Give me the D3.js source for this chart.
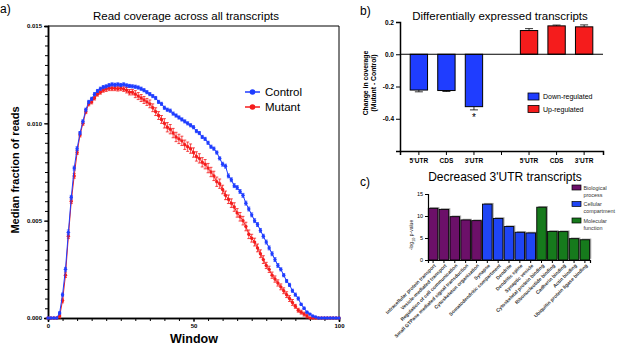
<!DOCTYPE html>
<html lang="en">
<head>
    <meta charset="UTF-8">
    <title>Coverage figure</title>
    <script src="https://cdnjs.cloudflare.com/ajax/libs/d3/7.8.5/d3.min.js"></script>
    <style>
        body { margin: 0; background: #fff; }
        svg { font-family: "Liberation Sans", Arial, sans-serif; }
    </style>
</head>
<body>
    <div id="chart"></div>
    <script>
        // ---- panel a: median fraction of reads per window (window 0..100)
        const controlMedian = [
            0, 0, 0, 0, 0.00026, 0.0012, 0.0025, 0.0044, 0.0062, 0.0077,
            0.0087, 0.0095, 0.0101, 0.0107, 0.0111, 0.01126, 0.0115, 0.01166, 0.01178, 0.01186,
            0.0119, 0.01196, 0.0120, 0.01198, 0.0120, 0.01197, 0.0120, 0.01195, 0.01192, 0.0119,
            0.01188, 0.01184, 0.01178, 0.0117, 0.0116, 0.0115, 0.0114, 0.0113, 0.0111, 0.0110,
            0.0108, 0.0107, 0.01065, 0.0105, 0.0104, 0.0103, 0.0102, 0.0101, 0.0100, 0.0099,
            0.0098, 0.0096, 0.0095, 0.0093, 0.0092, 0.0090, 0.0088, 0.0087, 0.0085, 0.0082,
            0.0079, 0.0078, 0.0073, 0.0071, 0.0068, 0.0067, 0.0065, 0.0063, 0.0059, 0.0056,
            0.0053, 0.0050, 0.0048, 0.0045, 0.0042, 0.0039, 0.0036, 0.0033, 0.0030, 0.0027,
            0.0025, 0.0022, 0.0019, 0.0017, 0.0014, 0.0012, 0.0010, 0.0007, 0.0005, 0.0003,
            0.0002, 0.0001, 0.00005, 0, 0, 0, 0, 0, 0, 0, 0
        ]
        const controlSem = [
            0, 0, 0, 0, 0.00006, 0.00008, 0.0001, 0.00012, 0.0001, 0.0001,
            0.0001, 0.00008, 0.00008, 0.00008, 0.00008, 0.00008, 0.00008, 0.00008, 0.00008, 0.00008,
            0.00008, 0.00008, 0.00008, 0.00008, 0.00008, 0.00008, 0.00008, 0.00008, 0.00008, 0.00008,
            0.00008, 0.00008, 0.00008, 0.00008, 0.00008, 0.00008, 0.00008, 0.00008, 0.00008, 0.00008,
            0.00008, 0.00008, 0.00008, 0.00008, 0.00008, 0.00008, 0.00008, 0.00008, 0.00008, 0.00008,
            0.00008, 0.00008, 0.00008, 0.00008, 0.00008, 0.00008, 0.00008, 0.00008, 0.00008, 0.00008,
            0.0001, 0.0001, 0.0001, 0.0001, 0.0001, 0.0001, 0.0001, 0.0001, 0.0001, 0.0001,
            0.0001, 0.0001, 0.0001, 0.0001, 0.0001, 0.0001, 0.0001, 0.0001, 0.0001, 0.0001,
            0.00008, 0.00008, 0.00008, 0.00008, 0.00008, 0.00008, 0.00008, 0.00006, 0.00006, 0.00005,
            0.00004, 0.00003, 0.00002, 0, 0, 0, 0, 0, 0, 0, 0
        ]
        const mutantMedian = [
            0, 0, 0, 0, 0.0001, 0.0009, 0.0022, 0.0042, 0.0060, 0.0073,
            0.0085, 0.0094, 0.0100, 0.0106, 0.0110, 0.0111, 0.0113, 0.0115, 0.0116, 0.0117,
            0.01176, 0.0118, 0.0118, 0.0118, 0.01178, 0.0118, 0.01176, 0.0117, 0.0116, 0.0116,
            0.0115, 0.0114, 0.0113, 0.0112, 0.0111, 0.0110, 0.0108, 0.0106, 0.0104, 0.0102,
            0.0100, 0.0098, 0.0097, 0.0095, 0.0093, 0.0092, 0.0091, 0.0089, 0.0088, 0.0087,
            0.0085, 0.0083, 0.0082, 0.0080, 0.0079, 0.0077, 0.0075, 0.0073, 0.0070, 0.0069,
            0.0066, 0.0063, 0.0061, 0.0059, 0.0057, 0.0054, 0.0052, 0.0050, 0.0047, 0.0043,
            0.0041, 0.0039, 0.0036, 0.0033, 0.0030, 0.0027, 0.0025, 0.0022, 0.0020, 0.0018,
            0.0016, 0.0014, 0.0012, 0.0010, 0.0008, 0.0006, 0.0004, 0.0003, 0.0002, 0.0001,
            0, 0, 0, 0, 0, 0, 0, 0, 0, 0, 0
        ]
        const mutantSem = [
            0, 0, 0, 0, 0.0001, 0.00012, 0.00012, 0.00012, 0.00012, 0.00012,
            0.0001, 0.0001, 0.0001, 0.0001, 0.0001, 0.0001, 0.0001, 0.0001, 0.0001, 0.0001,
            0.00012, 0.00012, 0.00012, 0.00012, 0.00012, 0.00012, 0.00012, 0.00014, 0.00014, 0.00014,
            0.00018, 0.00018, 0.00018, 0.00018, 0.00018, 0.0002, 0.0002, 0.0002, 0.0002, 0.0002,
            0.00024, 0.00024, 0.00024, 0.00024, 0.00024, 0.00024, 0.00024, 0.00024, 0.00024, 0.00024,
            0.00024, 0.00024, 0.00024, 0.00024, 0.00024, 0.00024, 0.00024, 0.00024, 0.00024, 0.00024,
            0.00022, 0.00022, 0.00022, 0.00022, 0.00022, 0.00022, 0.00022, 0.00022, 0.00022, 0.00022,
            0.0002, 0.0002, 0.0002, 0.0002, 0.0002, 0.00016, 0.00016, 0.00016, 0.00016, 0.00016,
            0.00015, 0.00015, 0.00015, 0.00015, 0.00015, 0.0001, 0.0001, 0.0001, 0.0001, 0.0001,
            0, 0, 0, 0, 0, 0, 0, 0, 0, 0, 0
        ]
        const coverageTicks = [0, 0.005, 0.010, 0.015]
        const windowTicks = [0, 50, 100]

        // ---- panel b: change in coverage (mutant - control)
        const regionLabels = ["5'UTR", "CDS", "3'UTR", "", "5'UTR", "CDS", "3'UTR"]
        const downValues = [-0.222, -0.225, -0.325]
        const downErr = [0.011, 0.006, 0.02]
        const upValues = [0.147, 0.176, 0.170]
        const upErr = [0.012, 0.005, 0.012]
        const changeTicks = [-0.4, -0.2, 0.0, 0.2]

        // ---- panel c: GO terms for decreased 3'UTR transcripts
        const goTerms = [
            'Intracellular protein transport', 'Vesicle-mediated transport',
            'Regulation of cell communication', 'Small GTPase mediated signal transduction',
            'Cytoskeleton organization', 'Synapse', 'Somatodendritic compartment',
            'Dendrite', 'Dendritic spine', 'Synaptic vesicle',
            'Cytoskeletal protein binding', 'Ribonucleotide binding', 'Cadherin binding',
            'Actin binding', 'Ubiquitin protein ligase binding'
        ]
        const goValues = [11.75, 11.5, 9.85, 9.1, 8.95, 12.7, 9.45, 7.6, 6.3, 6.15, 12.0, 6.5, 6.45, 4.85, 4.6]
        const goGroup = [0, 0, 0, 0, 0, 1, 1, 1, 1, 1, 2, 2, 2, 2, 2]
        const goGroupNames = [['Biological', 'process'], ['Cellular', 'compartment'], ['Molecular', 'function']]
        const goTicks = [0, 5, 10, 15]

        const blue = '#1f3dff', red = '#f51c1c'
        const goColors = ['#6c1069', '#1f45f5', '#167a1c']

        const svg = d3.select('#chart').append('svg')
            .attr('width', 617).attr('height', 345)

        // ================= panel a =================
        const xA = d3.scaleLinear().domain([0, 100]).range([48, 339])
        const yA = d3.scaleLinear().domain([0, 0.015]).range([318, 26])
        const gA = svg.append('g')

        gA.append('text').attr('x', 0).attr('y', 13).attr('font-size', 12).text('a)')
        gA.append('text').attr('x', 186).attr('y', 20).attr('font-size', 11.5)
            .attr('text-anchor', 'middle').text('Read coverage across all transcripts')

        // frame top and right
        gA.append('path').attr('d', `M${xA(0)},${yA(0.015)}H${xA(100)}V${yA(0)}`)
            .attr('fill', 'none').attr('stroke', '#000').attr('stroke-width', 1)

        // minor ticks
        gA.append('g').attr('transform', `translate(${xA(0)},0)`)
            .call(d3.axisLeft(yA).tickValues(d3.range(0, 0.01501, 0.0005)).tickSize(3).tickFormat(''))
        gA.append('g').attr('transform', `translate(0,${yA(0)})`)
            .call(d3.axisBottom(xA).tickValues(d3.range(0, 101, 5)).tickSize(3).tickFormat(''))

        gA.append('g').attr('transform', `translate(${xA(0)},0)`)
            .call(d3.axisLeft(yA).tickValues(coverageTicks).tickSize(4).tickPadding(2)
                .tickFormat(d => d.toFixed(3)))
        gA.append('g').attr('transform', `translate(0,${yA(0)})`)
            .call(d3.axisBottom(xA).tickValues(windowTicks).tickSize(4).tickPadding(2))
        gA.selectAll('.domain').attr('stroke-width', 1.5)
        gA.selectAll('.tick line').attr('stroke-width', 1)
        gA.selectAll('.tick text').attr('font-size', 6).attr('font-weight', 'bold')
            .attr('font-family', '"Liberation Sans", Arial, sans-serif')

        gA.append('text').attr('x', 194).attr('y', 343).attr('text-anchor', 'middle')
            .attr('font-size', 12.5).attr('font-weight', 'bold').text('Window')
        gA.append('text').attr('transform', 'translate(19,170) rotate(-90)')
            .attr('text-anchor', 'middle').attr('font-size', 11).attr('font-weight', 'bold')
            .text('Median fraction of reads')

        function drawSeries(values, sem, color) {
            const g = gA.append('g')
            const pts = values.map((v, i) => ({ w: i, v: v, e: sem[i] }))
            g.selectAll('.eb').data(pts.filter(d => d.e > 0)).enter().append('path')
                .attr('d', d => {
                    const x = xA(d.w), y0 = yA(d.v - d.e), y1 = yA(d.v + d.e)
                    return `M${x},${y0}V${y1}M${x - 1.5},${y0}h3M${x - 1.5},${y1}h3`
                })
                .attr('stroke', color).attr('stroke-width', 0.8).attr('fill', 'none')
            g.append('path').datum(pts)
                .attr('d', d3.line().x(d => xA(d.w)).y(d => yA(d.v)))
                .attr('fill', 'none').attr('stroke', color).attr('stroke-width', 1)
            g.selectAll('circle').data(pts).enter().append('circle')
                .attr('cx', d => xA(d.w)).attr('cy', d => yA(d.v)).attr('r', 1.7)
                .attr('fill', color)
        }
        drawSeries(mutantMedian, mutantSem, red)
        drawSeries(controlMedian, controlSem, blue)

        const legA = gA.append('g')
        ;[['Control', blue], ['Mutant', red]].forEach((s, i) => {
            const y = 92 + i * 15
            legA.append('line').attr('x1', 245).attr('x2', 260).attr('y1', y).attr('y2', y)
                .attr('stroke', s[1]).attr('stroke-width', 1.5)
            legA.append('circle').attr('cx', 252.5).attr('cy', y).attr('r', 2.8).attr('fill', s[1])
            legA.append('text').attr('x', 265).attr('y', y + 4).attr('font-size', 11.5).text(s[0])
        })

        // ================= panel b =================
        const gB = svg.append('g')
        const xB = d3.scaleBand().domain(d3.range(regionLabels.length)).range([400, 603]).padding(0.37)
        const yB = d3.scaleLinear().domain([-0.6, 0.2]).range([151, 22])

        gB.append('text').attr('x', 360).attr('y', 15).attr('font-size', 12).text('b)')
        gB.append('text').attr('x', 500).attr('y', 20).attr('font-size', 11.5)
            .attr('text-anchor', 'middle').text('Differentially expressed transcripts')

        const changeRows = downValues.map((v, i) => ({ slot: i, v: v, e: downErr[i], c: blue }))
            .concat(upValues.map((v, i) => ({ slot: i + 4, v: v, e: upErr[i], c: red })))

        gB.selectAll('.err').data(changeRows).enter().append('path')
            .attr('d', d => {
                const cx = xB(d.slot) + xB.bandwidth() / 2
                const tip = yB(d.v + Math.sign(d.v) * d.e)
                return `M${cx},${yB(d.v)}V${tip}M${cx - 4},${tip}h8`
            })
            .attr('stroke', '#000').attr('stroke-width', 0.8).attr('fill', 'none')
        gB.selectAll('.bar').data(changeRows).enter().append('rect')
            .attr('x', d => xB(d.slot)).attr('width', xB.bandwidth())
            .attr('y', d => yB(Math.max(0, d.v)))
            .attr('height', d => Math.abs(yB(d.v) - yB(0)))
            .attr('fill', d => d.c).attr('stroke', '#000').attr('stroke-width', 1)

        gB.append('line').attr('x1', 400).attr('x2', 603).attr('y1', yB(0)).attr('y2', yB(0))
            .attr('stroke', '#000').attr('stroke-width', 1)

        gB.append('g').attr('transform', 'translate(400,0)')
            .call(d3.axisLeft(yB).tickValues(changeTicks).tickSize(4).tickPadding(2)
                .tickFormat(d => d.toFixed(1)))
        gB.append('g').attr('transform', `translate(0,${yB(-0.6)})`)
            .call(d3.axisBottom(xB).tickSize(4).tickPadding(3).tickFormat(i => regionLabels[i]))
        gB.selectAll('.domain').attr('stroke-width', 1.5)
        gB.selectAll('.tick text').attr('font-size', 6.5).attr('font-weight', 'bold')
            .attr('font-family', '"Liberation Sans", Arial, sans-serif')

        gB.append('text').attr('x', xB(2) + xB.bandwidth() / 2).attr('y', 121)
            .attr('text-anchor', 'middle').attr('font-size', 10).text('*')

        gB.append('text').attr('transform', 'translate(368,83) rotate(-90)')
            .attr('text-anchor', 'middle').attr('font-size', 6.8).attr('font-weight', 'bold')
            .text('Change in coverage')
        gB.append('text').attr('transform', 'translate(376,83) rotate(-90)')
            .attr('text-anchor', 'middle').attr('font-size', 6.8).attr('font-weight', 'bold')
            .text('(Mutant - Control)')

        ;[['Down-regulated', blue], ['Up-regulated', red]].forEach((s, i) => {
            const y = 93 + i * 12.5
            gB.append('rect').attr('x', 528).attr('y', y).attr('width', 11).attr('height', 7)
                .attr('fill', s[1]).attr('stroke', '#000').attr('stroke-width', 0.8)
            gB.append('text').attr('x', 543).attr('y', y + 6.2).attr('font-size', 7).text(s[0])
        })

        // ================= panel c =================
        const gC = svg.append('g')
        const xC = d3.scaleBand().domain(d3.range(goTerms.length)).range([428, 590])
            .paddingInner(0.12).paddingOuter(0.03)
        const yC = d3.scaleLinear().domain([0, 15]).range([260, 194])

        gC.append('text').attr('x', 360).attr('y', 186).attr('font-size', 12).text('c)')
        gC.append('text').attr('x', 505).attr('y', 181).attr('font-size', 12)
            .attr('text-anchor', 'middle').text("Decreased 3'UTR transcripts")

        gC.selectAll('.shadow').data(goValues).enter().append('rect')
            .attr('x', (d, i) => xC(i) + 1.6).attr('y', d => yC(d) - 1.2)
            .attr('width', xC.bandwidth()).attr('height', d => yC(0) - yC(d))
            .attr('fill', '#a8a8a8')
        gC.selectAll('.bar').data(goValues).enter().append('rect')
            .attr('x', (d, i) => xC(i)).attr('y', d => yC(d))
            .attr('width', xC.bandwidth()).attr('height', d => yC(0) - yC(d))
            .attr('fill', (d, i) => goColors[goGroup[i]]).attr('stroke', '#000').attr('stroke-width', 0.9)

        gC.append('g').attr('transform', 'translate(428,0)')
            .call(d3.axisLeft(yC).tickValues(goTicks).tickSize(3).tickPadding(2))
        gC.append('g').attr('transform', `translate(0,${yC(0)})`)
            .call(d3.axisBottom(xC).tickSize(3).tickFormat(''))
        gC.selectAll('.domain').attr('stroke-width', 1.2)
        gC.selectAll('.tick text').attr('font-size', 5.5)
            .attr('font-family', '"Liberation Sans", Arial, sans-serif')

        gC.selectAll('.goLabel').data(goTerms).enter().append('text')
            .attr('transform', (d, i) => `translate(${xC(i) + xC.bandwidth() / 2 + 3},${yC(0) + 6}) rotate(-45)`)
            .attr('text-anchor', 'end').attr('font-size', 4.9).attr('font-weight', 'bold')
            .attr('fill', '#333').text(d => d)

        const yLab = gC.append('text').attr('transform', 'translate(413,235) rotate(-90)')
            .attr('text-anchor', 'middle').attr('font-size', 5).attr('fill', '#222')
        yLab.append('tspan').text('-log')
        yLab.append('tspan').attr('font-size', 3.8).attr('dy', 1.5).text('10')
        yLab.append('tspan').attr('dy', -1.5).text(' p-value')

        goGroupNames.forEach((lines, i) => {
            const y = 185 + i * 16.5
            gC.append('rect').attr('x', 572).attr('y', y).attr('width', 9).attr('height', 5)
                .attr('fill', goColors[i]).attr('stroke', '#000').attr('stroke-width', 0.7)
            lines.forEach((t, j) => {
                gC.append('text').attr('x', 583.5).attr('y', y + 4.5 + j * 7)
                    .attr('font-size', 5.4).attr('fill', '#333').text(t)
            })
        })
    </script>
</body>
</html>
